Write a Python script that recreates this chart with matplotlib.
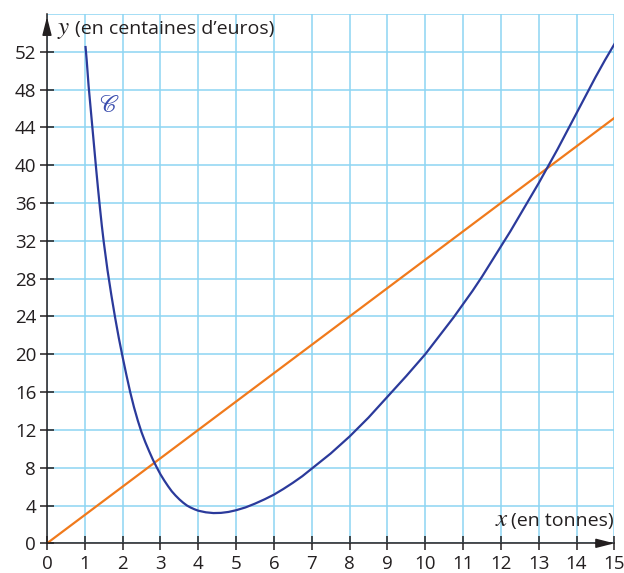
import matplotlib
matplotlib.use("Agg")
import matplotlib.pyplot as plt

# values
curve_x = [1.02, 1.05, 1.1, 1.15, 1.2, 1.25, 1.3, 1.35, 1.4, 1.45, 1.5, 1.6, 1.7, 1.8,
           1.9, 2.0, 2.1, 2.2, 2.3, 2.4, 2.5, 2.6, 2.7, 2.8, 2.9, 3.0, 3.1, 3.2, 3.3,
           3.4, 3.5, 3.6, 3.7, 3.8, 3.9, 4.0, 4.2, 4.4, 4.6, 4.8, 5.0, 5.25, 5.5, 5.75,
           6.0, 6.25, 6.5, 6.75, 7.0, 7.25, 7.5, 7.75, 8.0, 8.25, 8.5, 8.75, 9.0, 9.25,
           9.5, 9.75, 10.0, 10.25, 10.5, 10.75, 11.0, 11.25, 11.5, 11.75, 12.0, 12.25,
           12.5, 12.75, 13.0, 13.25, 13.5, 13.75, 14.0, 14.25, 14.5, 14.75, 15.0]
curve_y = [52.5, 51.1, 48.4, 46.2, 44.0, 41.8, 39.6, 37.5, 35.5, 33.6, 31.9, 28.9, 26.3,
           23.9, 21.7, 19.7, 17.8, 16.0, 14.4, 13.0, 11.75, 10.7, 9.75, 8.85, 8.05, 7.3,
           6.65, 6.05, 5.5, 5.05, 4.65, 4.3, 4.0, 3.78, 3.6, 3.45, 3.28, 3.2, 3.22, 3.32,
           3.5, 3.8, 4.2, 4.65, 5.15, 5.75, 6.4, 7.1, 7.9, 8.7, 9.5, 10.4, 11.3, 12.3,
           13.3, 14.4, 15.5, 16.6, 17.7, 18.85, 20.0, 21.3, 22.6, 23.9, 25.3, 26.7, 28.2,
           29.8, 31.4, 33.0, 34.7, 36.4, 38.1, 39.9, 41.7, 43.6, 45.5, 47.4, 49.3, 51.1,
           52.8]

line_x = [0, 15]
line_y = [0, 45]

xticks = list(range(0, 16))
yticks = list(range(0, 53, 4))

blue = "#2B3A9B"
orange = "#F07A1C"
grid_col = "#8DD5F3"
axis_col = "#231F20"

plt.rcParams["font.family"] = ["Open Sans", "DejaVu Sans"]

fig = plt.figure(figsize=(6.24, 5.73), dpi=100)
ax = fig.add_axes([0.0753, 0.0518, 0.9092, 0.9238])

ax.set_xlim(0, 15)
ax.set_ylim(0, 56)

ax.set_xticks(xticks)
ax.set_yticks(yticks)
ax.tick_params(direction="inout", length=10.5, width=1.1, color=axis_col,
               labelsize=13.5, labelcolor=axis_col)
ax.tick_params(axis="x", pad=3.5)
ax.tick_params(axis="y", pad=2.5)

ax.grid(True, color=grid_col, lw=1.1)
ax.axhline(56, color=grid_col, lw=1.1, zorder=0.5)
ax.set_axisbelow(True)

for s in ["top", "right"]:
    ax.spines[s].set_visible(False)
for s in ["left", "bottom"]:
    ax.spines[s].set_color(axis_col)
    ax.spines[s].set_linewidth(1.1)
    ax.spines[s].set_zorder(3)

# arrows at the end of the axes
arrow = dict(arrowstyle="-|>,head_length=1.1,head_width=0.28", color=axis_col,
             lw=1.1, mutation_scale=10, shrinkA=0, shrinkB=0)
ax.annotate("", xy=(15, 0), xytext=(14.5, 0), arrowprops=arrow,
            annotation_clip=False, zorder=4)
ax.annotate("", xy=(0, 55.7), xytext=(0, 54), arrowprops=arrow,
            annotation_clip=False, zorder=4)

ax.plot(line_x, line_y, color=orange, lw=1.6, zorder=2)
ax.plot(curve_x, curve_y, color=blue, lw=1.6, zorder=2.5)

# axis names
ax.text(0.27, 53.9, "$y$", fontsize=18, color=axis_col,
        math_fontfamily="stix", va="baseline", ha="left")
ax.text(0.75, 53.9, "(en centaines d’euros)", fontsize=14, color=axis_col,
        va="baseline", ha="left")
ax.text(12.2, 1.86, "$x$", fontsize=18, color=axis_col,
        math_fontfamily="stix", va="baseline", ha="right")
ax.text(14.98, 1.86, "(en tonnes)", fontsize=14, color=axis_col,
        va="baseline", ha="right")
ax.text(1.64, 46.3, r"$\mathscr{C}$", fontsize=17, color="#3A4DAE",
        math_fontfamily="stix", va="center", ha="center")

fig.savefig("out.png", dpi=100)
